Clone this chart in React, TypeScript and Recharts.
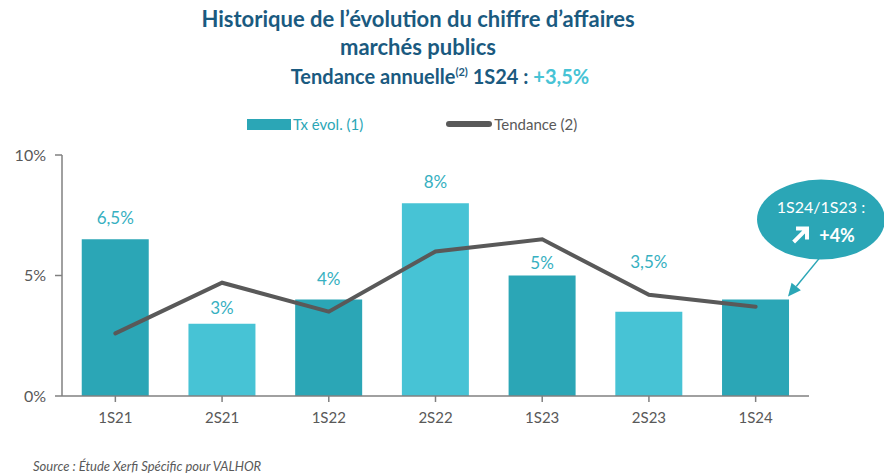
import { Bar, Cell, ComposedChart, LabelList, Line, XAxis, YAxis } from "recharts";

const categories = ["1S21", "2S21", "1S22", "2S22", "1S23", "2S23", "1S24"];
const txEvol = [6.5, 3, 4, 8, 5, 3.5, 4];
const tendance = [2.6, 4.7, 3.5, 6.0, 6.5, 4.2, 3.7];
const yTicks = [0, 5, 10];

const DARK = "#2BA6B6";
const LIGHT = "#47C3D5";
const LINE = "#595959";
const AXIS = "#808080";
const FONT = "Lato, 'Open Sans', sans-serif";

// how far above the bar top each value label sits (some are nudged clear of the line)
const labelLift: Record<string, number> = { "2S21": 10, "1S23": 7, "2S23": 44 };

const data = categories.map((c, i) => ({ cat: c, tx: txEvol[i], trend: tendance[i] }));

const fmt = (v: number) => `${String(v).replace(".", ",")}%`;
const last = categories.length - 1;

function ValueLabel(props: any) {
  const { x, y, width, index, value } = props;
  if (index === last) return null;
  const lift = labelLift[categories[index]] ?? 15;
  return (
    <text x={x + width / 2} y={y - lift} textAnchor="middle" fill="#36B0C1" fontSize={17} fontFamily={FONT}>
      {fmt(value)}
    </text>
  );
}

function Callout(props: any) {
  const { x, y, width, index } = props;
  if (index !== last) return null;
  const tipX = x + width - 1;
  const tipY = y - 3;
  const cx = tipX + 33;
  const cy = tipY - 77;
  const sx = cx - 2;
  const sy = cy + 39;
  const len = Math.hypot(sx - tipX, sy - tipY);
  const ux = (sx - tipX) / len;
  const uy = (sy - tipY) / len;
  const bx = tipX + ux * 13;
  const by = tipY + uy * 13;
  return (
    <g>
      <line x1={sx} y1={sy} x2={bx} y2={by} stroke={DARK} strokeWidth={1.5} />
      <polygon
        points={`${tipX},${tipY} ${bx - uy * 6},${by + ux * 6} ${bx + uy * 6},${by - ux * 6}`}
        fill={DARK}
      />
      <ellipse cx={cx} cy={cy} rx={64} ry={40} fill={DARK} />
      <text x={cx} y={cy - 7} textAnchor="middle" fill="#fff" fontSize={16} fontFamily={FONT}>
        1S24/1S23 :
      </text>
      <text x={cx + 16} y={cy + 22} textAnchor="middle" fill="#fff" fontSize={18} fontWeight={700} fontFamily={FONT}>
        +4%
      </text>
      <path
        d={`M ${cx - 26} ${cy + 21} L ${cx - 16} ${cy + 11} M ${cx - 23} ${cy + 9} L ${cx - 14} ${cy + 9} L ${cx - 14} ${cy + 18}`}
        stroke="#fff"
        strokeWidth={4}
        fill="none"
        strokeLinecap="square"
      />
    </g>
  );
}

export default function App() {
  return (
    <div style={{ position: "absolute", left: 0, top: 0, width: 884, height: 475, background: "#fff", fontFamily: FONT }}>
      <div style={{ position: "absolute", top: 5, left: 0, width: 836, textAlign: "center", color: "#1A5A80", fontWeight: 700, fontSize: 22, lineHeight: "28px" }}>
        <div>Historique de l’évolution du chiffre d’affaires</div>
        <div>marchés publics</div>
        <div style={{ paddingLeft: 44, lineHeight: "30px", fontSize: 20 }}>
          Tendance annuelle<sup style={{ fontSize: 11, lineHeight: 0 }}>(2)</sup> 1S24 : <span style={{ color: "#47C3D5" }}>+3,5%</span>
        </div>
      </div>

      <div style={{ position: "absolute", top: 115, left: 247, display: "flex", alignItems: "center", fontSize: 15, color: "#595959" }}>
        <span style={{ display: "inline-block", width: 44, height: 11, background: DARK, marginRight: 2 }} />
        <span style={{ color: DARK }}>Tx évol. (1)</span>
        <span style={{ display: "inline-block", width: 46, height: 6, borderRadius: 3, background: LINE, marginLeft: 83, marginRight: 2 }} />
        <span>Tendance (2)</span>
      </div>

      <ComposedChart width={884} height={475} data={data} margin={{ top: 155, right: 75, bottom: 49, left: 0 }} barCategoryGap="18.5%">
        <XAxis
          dataKey="cat"
          height={30}
          stroke={AXIS}
          strokeWidth={1.5}
          tickSize={6}
          tick={{ fill: "#595959", fontSize: 15, fontFamily: FONT, dy: 8 }}
          interval={0}
        />
        <YAxis
          width={62}
          domain={[0, 10]}
          ticks={yTicks}
          tickFormatter={(v) => `${v}%`}
          stroke={AXIS}
          strokeWidth={1.5}
          tickSize={7}
          tick={{ fill: "#595959", fontSize: 16, fontFamily: FONT, dx: -7 }}
        />
        <Bar dataKey="tx" isAnimationActive={false}>
          {data.map((d) => (
            <Cell key={d.cat} fill={d.cat.startsWith("1S") ? DARK : LIGHT} />
          ))}
          <LabelList dataKey="tx" content={ValueLabel} />
          <LabelList dataKey="tx" content={Callout} />
        </Bar>
        <Line type="linear" dataKey="trend" stroke={LINE} strokeWidth={4} dot={false} strokeLinecap="round" isAnimationActive={false} />
      </ComposedChart>

      <div style={{ position: "absolute", top: 458, left: 33, fontSize: 13, fontStyle: "italic", color: "#595959" }}>
        Source : Étude Xerfi Spécific pour VALHOR
      </div>
    </div>
  );
}
